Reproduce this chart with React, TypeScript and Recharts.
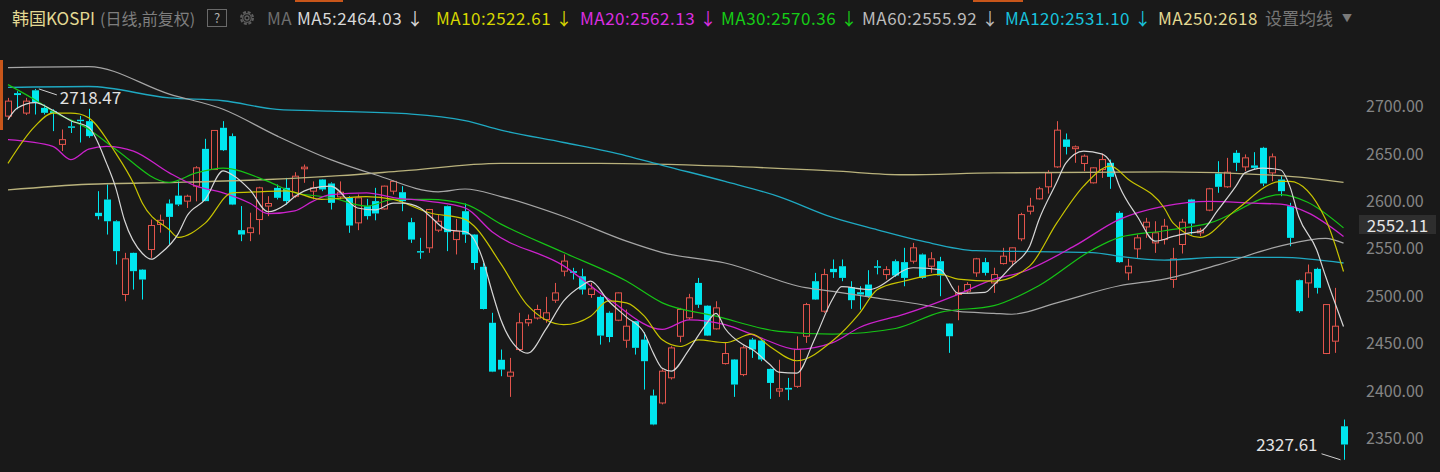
import React from "react";
import { ComposedChart, Bar, Line, XAxis, YAxis, ReferenceDot } from "recharts";

const BG = "#191919";
const UP = "#e2544c";
const DOWN = "#00e6ee";
const FONT = "'Noto Sans CJK SC', 'Noto Sans', sans-serif";

// daily candles, oldest first
const opens = [
  2689.8, 2714, 2693, 2717, 2698.5, 2695, 2660, 2679, 2686, 2684.5,
  2587.9, 2601.9, 2579, 2501.8, 2545.7, 2528, 2549.2, 2575.6, 2597.7, 2606,
  2600.2, 2616, 2655.3, 2633.5, 2677.5, 2668.7, 2569.6, 2567, 2580.8, 2595,
  2614.2, 2614.2, 2605.4, 2634.3, 2610.7, 2623, 2618.8, 2604.7, 2603.7, 2577.3,
  2594.9, 2600.2, 2592, 2610.7, 2609.6, 2578, 2547.5, 2551, 2569.6, 2594.9,
  2559.7, 2589.6, 2565, 2531, 2472, 2433, 2415.7, 2443.8, 2471.9, 2477,
  2475.4, 2495.8, 2526.4, 2526.4, 2521, 2501.8, 2499.3, 2482.5, 2474.7, 2453.6,
  2473.7, 2454.3, 2395.3, 2387.5, 2414, 2457.8, 2477.2, 2514, 2490, 2465.6,
  2429, 2433.3, 2417.4, 2454.3, 2453.3, 2423.4, 2400, 2403.4, 2405, 2457.8,
  2515.8, 2484.2, 2528.8, 2531.6, 2509.5, 2504.2, 2512.3, 2531.6, 2522.8, 2536.9,
  2535.9, 2536.9, 2544, 2531.6, 2536.9, 2471.2, 2501.8, 2505.3, 2524.6, 2535.9,
  2514, 2534.4, 2536.9, 2560.5, 2589.6, 2602.6, 2615.3, 2636.3, 2665.2, 2655.5,
  2639.9, 2619.5, 2633.5, 2640.6, 2587.9, 2524.6, 2549.9, 2573, 2556.2, 2559.7,
  2517.6, 2554.5, 2601.9, 2566.8, 2590.7, 2629.3, 2615.3, 2651.1, 2636.3, 2637.8,
  2656.4, 2630, 2623, 2594.9, 2516.9, 2514, 2528.8, 2439.6, 2452.6, 2362.9,
];
const highs = [
  2709, 2716, 2709, 2718.47, 2702, 2697, 2675.7, 2684.5, 2690, 2697.5,
  2610.7, 2617.7, 2580, 2545.7, 2546, 2528.5, 2580.8, 2586, 2602, 2621,
  2607, 2637, 2665.9, 2675, 2684.5, 2671.5, 2595, 2588, 2615.3, 2605.4,
  2617.7, 2624.7, 2630.7, 2638.8, 2621, 2623.5, 2620, 2621, 2605.4, 2607.2,
  2602.6, 2614.2, 2616.5, 2622, 2616, 2582.6, 2561.5, 2592, 2586, 2595.5,
  2581.5, 2597.7, 2565.5, 2535, 2482.5, 2443.8, 2435, 2482.5, 2480.7, 2491,
  2499.3, 2514, 2544, 2529.9, 2529, 2514, 2500.7, 2484, 2504, 2486,
  2474, 2462, 2401.6, 2423, 2447.3, 2487.7, 2502.5, 2519.3, 2490.5, 2494.7,
  2450.8, 2433.8, 2448, 2456, 2455, 2423.8, 2433, 2413.9, 2457.8, 2493,
  2524.6, 2528.9, 2538.7, 2538.7, 2515.8, 2510.5, 2527.4, 2538, 2531.6, 2538.7,
  2551, 2556.2, 2545, 2546.4, 2541.5, 2471.5, 2511.2, 2514.8, 2540.4, 2540.4,
  2530, 2551, 2551.5, 2587.9, 2603.7, 2615.3, 2632.8, 2684.5, 2671.5, 2658.9,
  2649.4, 2635.8, 2650.4, 2644, 2589.6, 2539.4, 2565, 2582.6, 2579, 2581.5,
  2551, 2581.5, 2602.6, 2572, 2614.2, 2642.3, 2645.8, 2653.9, 2649.4, 2651.8,
  2657.4, 2650.4, 2626.5, 2598.4, 2517.5, 2533.4, 2530, 2491.8, 2508.8, 2370,
];
const lows = [
  2687, 2697, 2691, 2691.5, 2691.5, 2674, 2653, 2672, 2662, 2667,
  2580.8, 2565, 2533.4, 2494.7, 2507, 2496.5, 2540.4, 2567, 2554.5, 2595,
  2593, 2600, 2600, 2633, 2653, 2596, 2558, 2558, 2565, 2584.4,
  2602, 2596.6, 2603.7, 2619.5, 2602, 2610.7, 2591.4, 2602, 2566.8, 2569.6,
  2580.8, 2580, 2591.4, 2607.2, 2589.6, 2556.2, 2539.4, 2545.7, 2567.5, 2547.5,
  2544, 2556.2, 2528, 2486, 2420, 2415.7, 2393.9, 2442, 2468.4, 2475.4,
  2472, 2493, 2521, 2517.6, 2501.8, 2498.3, 2449, 2451.5, 2473.7, 2445.6,
  2438.5, 2401.6, 2364, 2386, 2412.2, 2451.5, 2475.4, 2487.7, 2458, 2464.9,
  2428, 2393.9, 2415.7, 2435, 2431.5, 2391.8, 2393.9, 2390.4, 2403.4, 2450.8,
  2496, 2482.5, 2519.3, 2515.8, 2486.7, 2485.9, 2498.3, 2523, 2517.6, 2520.4,
  2510.5, 2534.4, 2518.3, 2524.6, 2500, 2440.3, 2474.7, 2503.5, 2520.4, 2521.8,
  2503.5, 2533.4, 2531.6, 2558, 2586.1, 2601.9, 2608.2, 2635.3, 2649.4, 2640.6,
  2631.8, 2618.8, 2624.7, 2613.2, 2535.2, 2516.9, 2539.4, 2561.5, 2545.7, 2554.5,
  2508.8, 2545, 2565, 2563.3, 2589.6, 2609, 2614.2, 2631.8, 2631.8, 2633.5,
  2616, 2621.2, 2605.4, 2552.7, 2482.5, 2498.3, 2502.8, 2439, 2440.3, 2327.61,
];
const closes = [
  2705.6, 2712, 2705.6, 2703.8, 2693.3, 2693, 2665, 2677.5, 2684.5, 2668.7,
  2584.4, 2579, 2547.5, 2539.4, 2526.4, 2517.6, 2574.5, 2580, 2583.6, 2596.6,
  2605.4, 2635.3, 2600.2, 2674.7, 2653.9, 2596.6, 2565, 2572, 2614.2, 2597.7,
  2603.7, 2600.2, 2626.5, 2636, 2614.2, 2612.5, 2598.4, 2609.6, 2574.5, 2603.7,
  2584.4, 2587.2, 2616, 2621, 2600.2, 2559.7, 2546, 2591.4, 2579, 2567.5,
  2568.5, 2565, 2535, 2486.5, 2420.5, 2422.7, 2420, 2472, 2475.4, 2486,
  2482.5, 2503.5, 2537, 2524.6, 2507, 2507.7, 2458.5, 2457, 2503.5, 2468.4,
  2445.6, 2431.5, 2364.8, 2421, 2445.5, 2486, 2498.3, 2491, 2458.5, 2487.7,
  2439.6, 2406.9, 2445.6, 2443.8, 2433.3, 2408.6, 2402.4, 2401.6, 2443.8, 2491.2,
  2496.5, 2522.8, 2525.3, 2519.3, 2495.8, 2501.8, 2499.3, 2530, 2528, 2521.8,
  2519.3, 2551, 2519.3, 2539.4, 2521.8, 2457.8, 2503.5, 2512.3, 2539.4, 2524.6,
  2522.8, 2542.2, 2551, 2586, 2594.9, 2613.2, 2630, 2675, 2657.4, 2657.4,
  2647.6, 2635.3, 2644, 2625.8, 2535.9, 2531.6, 2561.5, 2578, 2566.8, 2573.8,
  2539.4, 2578, 2576.6, 2569.6, 2613.2, 2615.3, 2630.7, 2640.6, 2645.8, 2635.3,
  2618.8, 2646.9, 2610.7, 2561.5, 2484.2, 2524.6, 2508.8, 2491.2, 2468.4, 2343.7,
];

// moving averages read at sample bars: [bar number, value]
const ma5Pts: [number, number][] = [
  [1, 2686], [2, 2698], [4, 2704], [6, 2696], [8, 2685], [10, 2678], [12, 2640], [13, 2615],
  [14, 2580], [16, 2545], [17, 2539], [18, 2545], [20, 2566], [21, 2585], [23, 2602], [25, 2632],
  [26, 2628], [28, 2612], [30, 2589], [32, 2597], [33, 2605], [35, 2614], [37, 2616], [40, 2593],
  [42, 2591], [44, 2598], [45, 2598], [47, 2593], [48, 2585], [50, 2570], [52, 2568], [53, 2560],
  [54, 2538], [55, 2505], [56, 2475], [58, 2444], [59, 2440], [61, 2465], [63, 2495], [65, 2511],
  [66, 2516], [68, 2495], [70, 2478], [72, 2461], [73, 2440], [74, 2424], [75, 2421], [77, 2444],
  [79, 2472], [80, 2482], [81, 2466], [83, 2449], [84, 2444], [86, 2428], [87, 2420], [89, 2419],
  [91, 2455], [93, 2497], [94, 2510], [97, 2507], [102, 2530], [105, 2528], [107, 2503], [110, 2504],
  [111, 2512], [113, 2532], [115, 2553], [116, 2580], [118, 2620], [119, 2640], [121, 2653], [123, 2650],
  [124, 2641], [125, 2616], [127, 2584], [129, 2558], [131, 2563], [133, 2567], [134, 2568], [136, 2591],
  [138, 2616], [139, 2630], [141, 2635], [143, 2633], [144, 2616], [145, 2584], [147, 2549], [148, 2521],
  [150, 2468],
];
const ma10Pts: [number, number][] = [
  [1, 2640], [4, 2679], [6, 2693], [8, 2693], [9, 2692], [10, 2688], [13, 2651], [15, 2619],
  [16, 2598], [19, 2570], [20, 2562], [23, 2577], [26, 2609], [29, 2610], [32, 2611], [36, 2602],
  [41, 2605], [44, 2602], [48, 2588], [52, 2581], [53, 2574], [56, 2534], [59, 2490], [63, 2470],
  [66, 2479], [68, 2495], [70, 2493], [72, 2479], [74, 2454], [76, 2447], [78, 2454], [81, 2451],
  [84, 2460], [86, 2447], [89, 2432], [93, 2453], [96, 2482], [98, 2507], [101, 2516], [105, 2523],
  [107, 2518], [111, 2516], [115, 2532], [118, 2577], [121, 2616], [124, 2637], [126, 2623], [130, 2593],
  [131, 2577], [134, 2562], [138, 2591], [143, 2621], [144, 2621], [148, 2581], [150, 2526],
];
const ma20Pts: [number, number][] = [
  [1, 2665], [6, 2658], [8, 2644], [10, 2655], [12, 2658], [15, 2653], [19, 2630], [22, 2616],
  [25, 2609], [28, 2598], [30, 2587], [33, 2590], [35, 2600], [37, 2607], [41, 2609], [44, 2604],
  [48, 2600], [52, 2593], [55, 2568], [63, 2532], [68, 2497], [74, 2465], [77, 2475], [81, 2470],
  [85, 2456], [89, 2444], [93, 2451], [96, 2467], [101, 2481], [107, 2502], [111, 2518], [114, 2525],
  [120, 2553], [125, 2581], [130, 2595], [135, 2600], [140, 2598], [143, 2597], [146, 2588], [150, 2563],
];
const ma30Pts: [number, number][] = [
  [1, 2723], [4, 2707], [6, 2695], [10, 2676], [13, 2655], [19, 2620], [22, 2630], [25, 2635],
  [30, 2621], [33, 2609], [37, 2604], [41, 2595], [44, 2602], [48, 2602], [52, 2597], [56, 2576],
  [63, 2546], [70, 2516], [74, 2493], [80, 2479], [87, 2463], [93, 2460], [100, 2466], [105, 2483],
  [111, 2490], [116, 2511], [122, 2549], [125, 2562], [130, 2569], [135, 2577], [143, 2607], [146, 2599],
  [150, 2572],
];
const ma60Pts: [number, number][] = [
  [1, 2741], [10, 2742], [19, 2713], [25, 2697], [31, 2669], [37, 2644], [42, 2628], [49, 2610],
  [52, 2613], [56, 2605], [63, 2584], [70, 2558], [74, 2546], [81, 2535], [90, 2509], [93, 2505],
  [98, 2498], [103, 2491], [107, 2484], [111, 2482], [113, 2481], [118, 2493], [125, 2511], [130, 2518],
  [136, 2533], [143, 2553], [148, 2561], [150, 2556],
];
const ma120Pts: [number, number][] = [
  [1, 2720], [10, 2721], [19, 2709], [25, 2706], [31, 2697], [37, 2695], [46, 2692], [52, 2685],
  [56, 2675], [63, 2662], [70, 2648], [74, 2638], [81, 2621], [87, 2605], [93, 2583], [98, 2570],
  [103, 2558], [109, 2548], [122, 2546], [125, 2542], [130, 2538], [136, 2541], [143, 2541], [150, 2535],
];
const ma250Pts: [number, number][] = [
  [1, 2612], [10, 2618], [20, 2620], [30, 2623], [38, 2627], [45, 2632], [56, 2640], [67, 2640],
  [81, 2637], [93, 2632], [101, 2628], [111, 2630], [130, 2631], [143, 2627], [150, 2620],
];

const yTicks = [2350, 2400, 2450, 2500, 2550, 2600, 2650, 2700];

const maLegend = [
  { label: "MA5:2464.03", color: "#d8d8d8", left: 297 },
  { label: "MA10:2522.61", color: "#d6d600", left: 436 },
  { label: "MA20:2562.13", color: "#dc2ee0", left: 580 },
  { label: "MA30:2570.36", color: "#16cc16", left: 721 },
  { label: "MA60:2555.92", color: "#bcbcbc", left: 862 },
  { label: "MA120:2531.10", color: "#18c2dc", left: 1005 },
];

const lookup = (pts: [number, number][]) => {
  const m = new Map(pts);
  return (d: number) => m.get(d) ?? null;
};
const m5 = lookup(ma5Pts);
const m10 = lookup(ma10Pts);
const m20 = lookup(ma20Pts);
const m30 = lookup(ma30Pts);
const m60 = lookup(ma60Pts);
const m120 = lookup(ma120Pts);
const m250 = lookup(ma250Pts);

const data = opens.map((o, i) => {
  const day = i + 1;
  return {
    day,
    o,
    h: highs[i],
    l: lows[i],
    c: closes[i],
    range: [lows[i], highs[i]],
    ma5: m5(day),
    ma10: m10(day),
    ma20: m20(day),
    ma30: m30(day),
    ma60: m60(day),
    ma120: m120(day),
    ma250: m250(day),
  };
});

const hiIdx = highs.indexOf(Math.max(...highs));
const loIdx = lows.indexOf(Math.min(...lows));

function Candle(props: any) {
  const { x, y, width, height, payload } = props;
  if (!payload || height <= 0) return null;
  const { o, h, l, c } = payload;
  const k = height / (h - l);
  const py = (v: number) => y + (h - v) * k;
  const cx = Math.round(x + width / 2) + 0.5;
  const up = c >= o;
  const top = py(Math.max(o, c));
  const bot = py(Math.min(o, c));
  const color = up ? UP : DOWN;
  const bh = Math.max(bot - top, 1);
  return (
    <g>
      <line x1={cx} x2={cx} y1={y} y2={top} stroke={color} />
      <line x1={cx} x2={cx} y1={top + bh} y2={y + height} stroke={color} />
      {up ? (
        <rect x={cx - 3} y={top} width={6} height={bh} fill={BG} stroke={color} />
      ) : (
        <rect x={cx - 3.5} y={top} width={7} height={bh} fill={color} />
      )}
    </g>
  );
}

const HighMark = (p: any) => (
  <g>
    <line x1={p.cx + 4} y1={p.cy} x2={p.cx + 22} y2={p.cy + 6} stroke="#cfcfcf" />
    <text x={p.cx + 25} y={p.cy + 15} fill="#e2e2e2" fontSize={17} fontFamily={FONT}>
      {highs[hiIdx].toFixed(2)}
    </text>
  </g>
);

const LowMark = (p: any) => (
  <g>
    <line x1={p.cx - 3} y1={p.cy} x2={p.cx - 22} y2={p.cy - 6} stroke="#cfcfcf" />
    <text x={p.cx - 26} y={p.cy - 9} fill="#e2e2e2" fontSize={17} fontFamily={FONT} textAnchor="end">
      {lows[loIdx].toFixed(2)}
    </text>
  </g>
);

const Gear = () => (
  <svg width={18} height={18} viewBox="0 0 18 18" style={{ position: "absolute", left: 238, top: 9 }}>
    <circle cx={9} cy={9} r={6} fill="none" stroke="#5e5e5e" strokeWidth={2} strokeDasharray="3 1.7" />
    <circle cx={9} cy={9} r={4.3} fill="none" stroke="#5e5e5e" strokeWidth={1.3} />
    <circle cx={9} cy={9} r={2} fill="none" stroke="#5e5e5e" strokeWidth={1.3} />
  </svg>
);

const txt = (left: number, color: string): React.CSSProperties => ({
  position: "absolute",
  left,
  top: 6,
  color,
  fontSize: 17,
  letterSpacing: 0.5,
  lineHeight: "24px",
  whiteSpace: "nowrap",
});

export default function App() {
  return (
    <div style={{ position: "relative", width: 1440, height: 472, background: BG, fontFamily: FONT, overflow: "hidden" }}>
      <style>{"body{margin:0;background:#191919}"}</style>
      <ComposedChart
        width={1440}
        height={472}
        data={data}
        margin={{ top: 59, right: 0, bottom: 5, left: 3.5 }}
        barCategoryGap={1}
      >
        <XAxis dataKey="day" hide />
        <YAxis
          orientation="right"
          domain={[2320, 2750]}
          ticks={yTicks}
          width={92}
          axisLine={false}
          tickLine={false}
          tickSize={0}
          tickMargin={18}
          tick={{ fill: "#858585", fontSize: 16, fontFamily: FONT }}
          tickFormatter={(v: number) => v.toFixed(2)}
          allowDataOverflow
        />
        <Bar dataKey="range" shape={<Candle />} isAnimationActive={false} />
        <Line type="monotone" dataKey="ma250" stroke="#b9b27c" strokeWidth={1.3} dot={false} connectNulls isAnimationActive={false} />
        <Line type="monotone" dataKey="ma120" stroke="#1fa9c2" strokeWidth={1.3} dot={false} connectNulls isAnimationActive={false} />
        <Line type="monotone" dataKey="ma60" stroke="#a6a6a6" strokeWidth={1.2} dot={false} connectNulls isAnimationActive={false} />
        <Line type="monotone" dataKey="ma30" stroke="#16c416" strokeWidth={1.2} dot={false} connectNulls isAnimationActive={false} />
        <Line type="monotone" dataKey="ma20" stroke="#cc22cc" strokeWidth={1.3} dot={false} connectNulls isAnimationActive={false} />
        <Line type="monotone" dataKey="ma10" stroke="#c8c400" strokeWidth={1.2} dot={false} connectNulls isAnimationActive={false} />
        <Line type="monotone" dataKey="ma5" stroke="#d6d6d6" strokeWidth={1.2} dot={false} connectNulls isAnimationActive={false} />
        <ReferenceDot x={hiIdx + 1} y={highs[hiIdx]} r={0} shape={HighMark} />
        <ReferenceDot x={loIdx + 1} y={lows[loIdx]} r={0} shape={LowMark} />
      </ComposedChart>

      {/* header strip */}
      <div style={{ position: "absolute", left: 0, top: 0, width: 1440, height: 36 }}>
        <div style={{ position: "absolute", left: 295, top: 0, width: 48, height: 2, background: "#c8561a" }} />
        <div style={{ position: "absolute", left: 973, top: 0, width: 50, height: 2, background: "#c8561a" }} />
        <span style={{ ...txt(12, "#e3d993"), letterSpacing: 0 }}>韩国KOSPI</span>
        <span style={{ ...txt(100, "#7e7e7e"), fontSize: 16, letterSpacing: 0 }}>(日线,前复权)</span>
        <span
          style={{
            position: "absolute",
            left: 207,
            top: 9,
            width: 18,
            height: 16,
            border: "1px solid #6a6a6a",
            color: "#b0b0b0",
            fontSize: 13,
            lineHeight: "16px",
            textAlign: "center",
          }}
        >
          ?
        </span>
        <Gear />
        <span style={txt(267, "#6e6e6e")}>MA</span>
        {maLegend.map((m) => (
          <span key={m.label} style={txt(m.left, m.color)}>
            {m.label} ↓
          </span>
        ))}
        <span style={txt(1158, "#e3d993")}>MA250:2618</span>
        <span style={{ ...txt(1265, "#767676"), letterSpacing: 0 }}>设置均线</span>
        <span style={{ ...txt(1342, "#7a7a7a"), fontSize: 10 }}>▼</span>
      </div>

      <div style={{ position: "absolute", left: 0, top: 60, width: 3, height: 70, background: "#c8561a" }} />

      <div
        style={{
          position: "absolute",
          left: 1359,
          top: 215,
          width: 77,
          height: 19,
          background: "#2e2e2e",
          color: "#e6e6e6",
          fontSize: 17,
          lineHeight: "19px",
          textAlign: "center",
        }}
      >
        2552.11
      </div>
    </div>
  );
}
